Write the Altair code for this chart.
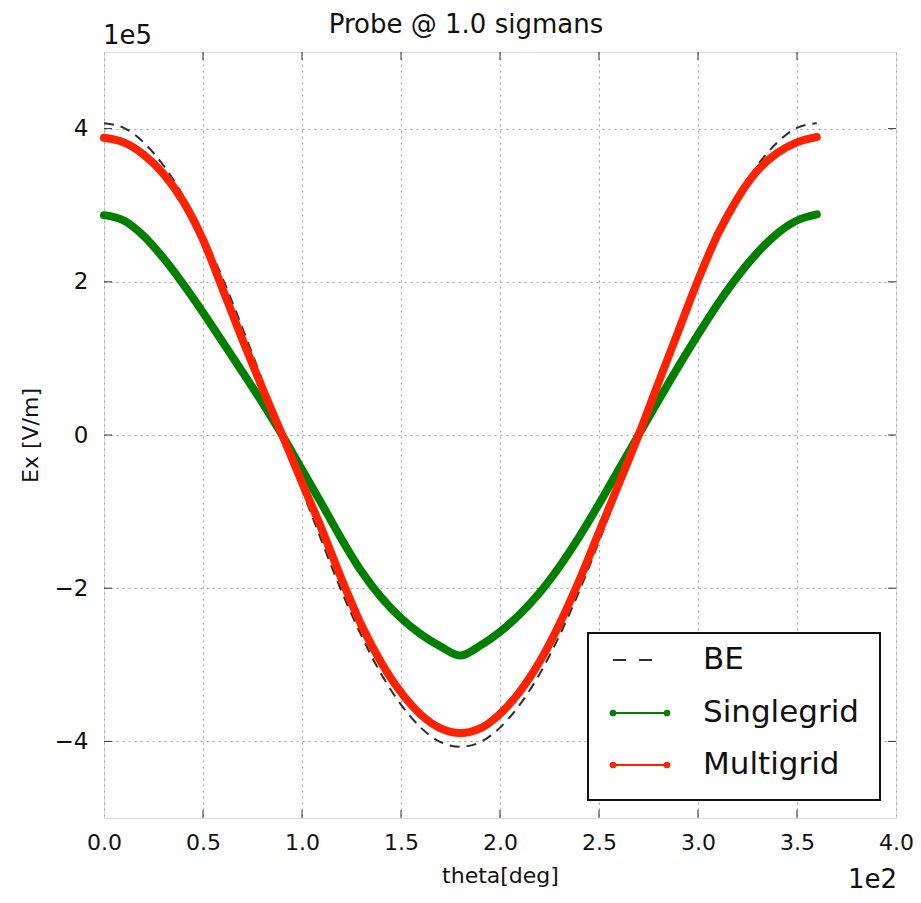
import altair as alt
import pandas as pd

# ---- data (Ex in units of 1e5 V/m, theta in degrees) ----
theta_deg = [0, 10, 20, 30, 40, 50, 60, 70, 80, 90, 100, 110, 120, 130, 140, 150, 160, 170, 180,
             190, 200, 210, 220, 230, 240, 250, 260, 270, 280, 290, 300, 310, 320, 330, 340, 350, 360]
be = [4.07, 4.01, 3.82, 3.52, 3.12, 2.62, 2.04, 1.39, 0.71, 0.00, -0.71, -1.39, -2.04, -2.62, -3.12,
      -3.52, -3.82, -4.01, -4.07, -4.01, -3.82, -3.52, -3.12, -2.62, -2.04, -1.39, -0.71, 0.00,
      0.71, 1.39, 2.04, 2.62, 3.12, 3.52, 3.82, 4.01, 4.07]
singlegrid = [2.87, 2.80, 2.60, 2.31, 1.97, 1.60, 1.21, 0.82, 0.42, 0.00, -0.45, -0.90, -1.36, -1.78,
              -2.12, -2.39, -2.60, -2.76, -2.88, -2.75, -2.57, -2.34, -2.06, -1.72, -1.33, -0.90,
              -0.45, 0.00, 0.45, 0.89, 1.31, 1.71, 2.07, 2.38, 2.63, 2.80, 2.88]
multigrid = [3.88, 3.82, 3.66, 3.41, 3.05, 2.55, 1.90, 1.24, 0.61, 0.00, -0.62, -1.23, -1.88, -2.48,
             -2.97, -3.36, -3.65, -3.83, -3.89, -3.83, -3.64, -3.35, -2.96, -2.47, -1.90, -1.27,
             -0.64, 0.00, 0.68, 1.35, 2.02, 2.62, 3.09, 3.45, 3.68, 3.82, 3.89]

x_ticks = [0.0, 0.5, 1.0, 1.5, 2.0, 2.5, 3.0, 3.5, 4.0]
y_ticks = [-4, -2, 0, 2, 4]
series_names = ["BE", "Singlegrid", "Multigrid"]
series_colors = ["#2e2e2e", "#008000", "#ff2200"]

title_text = "Probe @ 1.0 sigmans"
x_title = "theta[deg]"
y_title = "Ex [V/m]"
x_offset_text = "1e2"
y_offset_text = "1e5"

FONT = "DejaVu Sans"
W, H = 792, 766

df = pd.DataFrame({"theta": [t / 100 for t in theta_deg],
                   "BE": be, "Singlegrid": singlegrid, "Multigrid": multigrid})
long = df.melt("theta", var_name="series", value_name="ex")

xs = alt.Scale(domain=[0, 4], nice=False, zero=False)
ys = alt.Scale(domain=[-5, 5], nice=False, zero=False)

xaxis = alt.Axis(values=x_ticks, format=".1f", title=x_title, tickSize=0, domain=False,
                 labelPadding=14, labelFontSize=22, labelFont=FONT, labelColor="#111",
                 titleFont=FONT, titleFontSize=22, titleFontWeight="normal", titleColor="#111",
                 titlePadding=12, grid=True, gridDash=[2, 4], gridColor="#a0a0a0", gridWidth=1,
                 labelFlush=False)
yaxis = alt.Axis(values=y_ticks, format="d", title=y_title, tickSize=0, domain=False,
                 labelExpr="replace(datum.label, '-', '\u2212')",
                 labelPadding=16, labelFontSize=23, labelFont=FONT, labelColor="#111",
                 titleFont=FONT, titleFontSize=22, titleFontWeight="normal", titleColor="#111",
                 titlePadding=12, grid=True, gridDash=[2, 4], gridColor="#a0a0a0", gridWidth=1,
                 labelFlush=False)


def curve(name, **mk):
    return alt.Chart(long).transform_filter(alt.datum.series == name).mark_line(
        interpolate="monotone", **mk).encode(
        x=alt.X("theta:Q", scale=xs, axis=xaxis),
        y=alt.Y("ex:Q", scale=ys, axis=yaxis),
        order="theta:Q",
    )


be_layer = curve("BE", color=series_colors[0], strokeWidth=2, strokeDash=[10, 7])
sg_layer = curve("Singlegrid", color=series_colors[1], strokeWidth=8, strokeCap="round", strokeJoin="round")
mg_layer = curve("Multigrid", color=series_colors[2], strokeWidth=8, strokeCap="round", strokeJoin="round")

# inside tick marks on all four sides
xt = pd.DataFrame({"v": x_ticks[1:-1]})
yt = pd.DataFrame({"v": y_ticks})
tick_style = dict(size=8, thickness=1, color="#333", opacity=1)
ticks = [
    alt.Chart(xt).mark_tick(**tick_style).encode(x=alt.X("v:Q", scale=xs, axis=xaxis), y=alt.value(H - 4)),
    alt.Chart(xt).mark_tick(**tick_style).encode(x=alt.X("v:Q", scale=xs, axis=xaxis), y=alt.value(4)),
    alt.Chart(yt).mark_tick(**tick_style).encode(y=alt.Y("v:Q", scale=ys, axis=yaxis), x=alt.value(4)),
    alt.Chart(yt).mark_tick(**tick_style).encode(y=alt.Y("v:Q", scale=ys, axis=yaxis), x=alt.value(W - 4)),
]

one = pd.DataFrame({"k": [0]})


def text_layer(txt, x, y, size, align="left", baseline="middle"):
    return alt.Chart(pd.DataFrame({"t": [txt]})).mark_text(
        font=FONT, fontSize=size, align=align, baseline=baseline, color="#111"
    ).encode(text="t:N", x=alt.value(x), y=alt.value(y))


# legend (drawn manually to match matplotlib style)
leg_box = alt.Chart(one).mark_rect(fill="white", stroke="#111", strokeWidth=2).encode(
    x=alt.value(484), x2=alt.value(776), y=alt.value(581), y2=alt.value(748))
row_y = [608, 661, 713]
legend_layers = [leg_box]
for i, (name, col) in enumerate(zip(series_names, series_colors)):
    if name == "BE":
        legend_layers.append(alt.Chart(one).mark_rule(color=col, strokeWidth=2, strokeDash=[13, 13]).encode(
            x=alt.value(509), x2=alt.value(549), y=alt.value(row_y[i])))
    else:
        legend_layers.append(alt.Chart(one).mark_rule(color=col, strokeWidth=2).encode(
            x=alt.value(509), x2=alt.value(563), y=alt.value(row_y[i])))
        for px in (509, 563):
            legend_layers.append(alt.Chart(one).mark_point(filled=True, size=45, color=col, opacity=1).encode(
                x=alt.value(px), y=alt.value(row_y[i])))
    legend_layers.append(text_layer(name, 599, row_y[i], 31))

extras = [
    text_layer(y_offset_text, -1, -16, 26),
    text_layer(x_offset_text, W + 1, H + 62, 26, align="right"),
    text_layer(title_text, 362, -40, 26, align="center", baseline="top"),
]

chart = alt.layer(be_layer, sg_layer, mg_layer, *ticks, *legend_layers, *extras).properties(
    width=W, height=H,
    autosize=alt.AutoSizeParams(type="none"),
    padding={"left": 96, "top": 44, "right": 17, "bottom": 77},
).configure_view(stroke="#222", strokeWidth=2).configure(background="white")

chart.save("out.html", embed_options={"renderer": "svg", "actions": False})
